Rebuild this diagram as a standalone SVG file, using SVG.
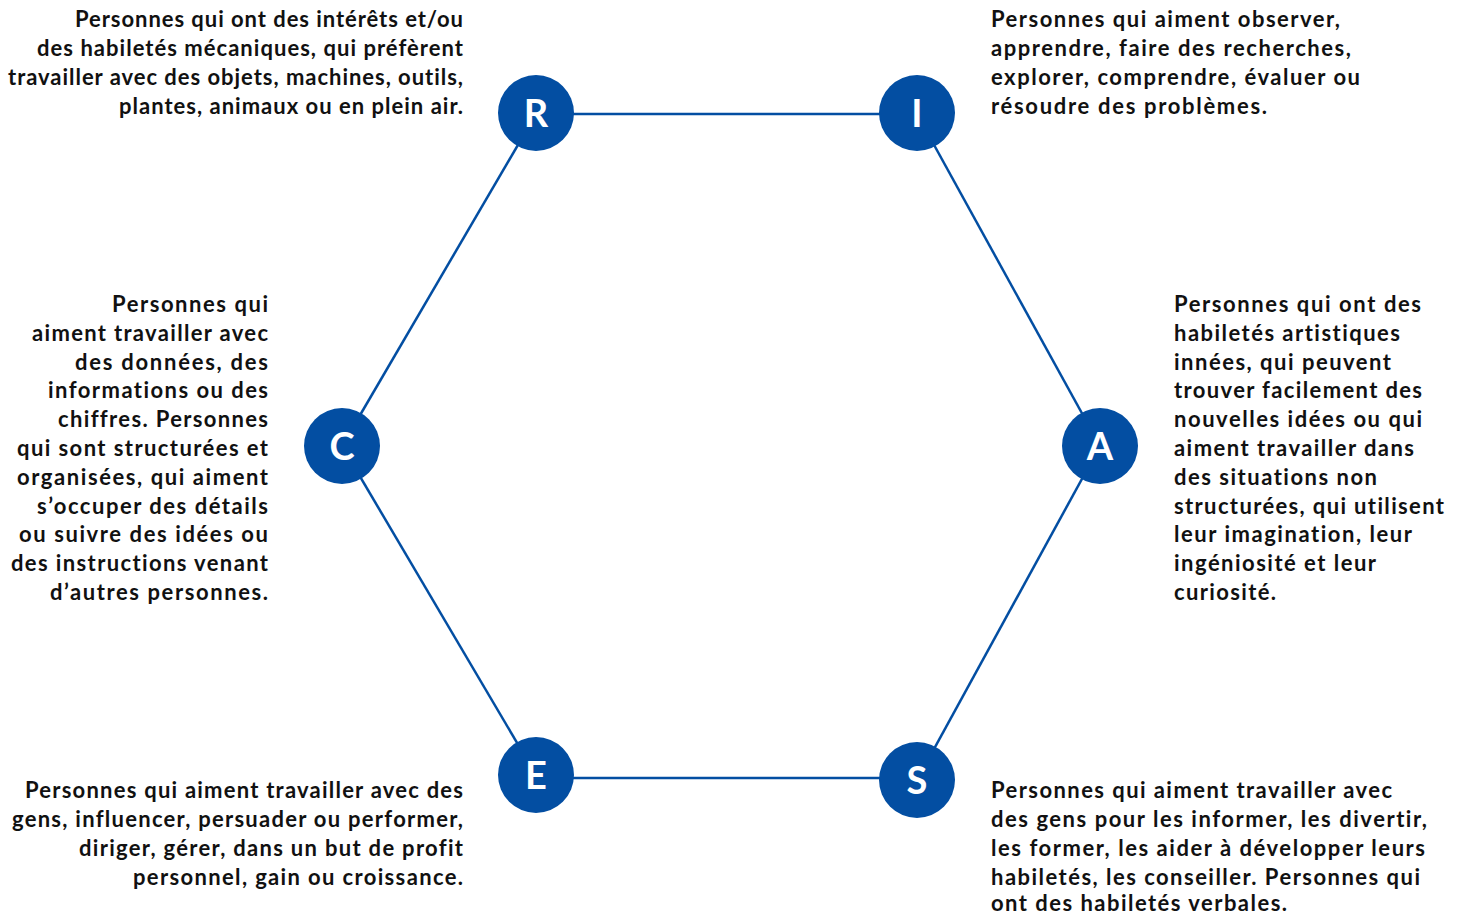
<svg xmlns="http://www.w3.org/2000/svg" width="1465" height="913" viewBox="0 0 1465 913">
<style>
.t{font-family:Lato,"Noto Sans",sans-serif;font-weight:700;font-size:22px;fill:#111;font-variant-ligatures:none}
.r{text-anchor:end}
.n{fill:#034ea2}
.l{font-family:Lato,"Noto Sans",sans-serif;font-weight:700;font-size:38px;fill:#fff;text-anchor:middle}
.e{stroke:#034ea2;stroke-width:2.5;fill:none}
</style>
<rect width="1465" height="913" fill="#fff"/>
<g id="connectors">
<line class="e" x1="536" y1="114" x2="917" y2="114"/>
<line class="e" x1="917" y1="114" x2="1100" y2="446"/>
<line class="e" x1="1100" y1="446" x2="917" y2="780"/>
<line class="e" x1="917" y1="778" x2="536" y2="778"/>
<line class="e" x1="536" y1="775" x2="342" y2="446"/>
<line class="e" x1="342" y1="446" x2="536" y2="114"/>
</g>
<g id="R"><circle class="n" cx="536" cy="113" r="38"/><text class="l" x="536" y="127">R</text>
<text class="t r" x="463" y="27" textLength="388">Personnes qui ont des intérêts et/ou</text>
<text class="t r" x="463" y="56" textLength="426">des habiletés mécaniques, qui préfèrent</text>
<text class="t r" x="463" y="85" textLength="455">travailler avec des objets, machines, outils,</text>
<text class="t r" x="463" y="114" textLength="344">plantes, animaux ou en plein air.</text>
</g>
<g id="I"><circle class="n" cx="917" cy="113" r="38"/><text class="l" x="917" y="127">I</text>
<text class="t" x="991" y="27" textLength="349">Personnes qui aiment observer,</text>
<text class="t" x="991" y="56" textLength="360">apprendre, faire des recherches,</text>
<text class="t" x="991" y="85" textLength="369">explorer, comprendre, évaluer ou</text>
<text class="t" x="991" y="114" textLength="276">résoudre des problèmes.</text>
</g>
<g id="C"><circle class="n" cx="342" cy="446" r="38"/><text class="l" x="342" y="460">C</text>
<text class="t r" x="268" y="312" textLength="156">Personnes qui</text>
<text class="t r" x="268" y="341" textLength="236">aiment travailler avec</text>
<text class="t r" x="268" y="370" textLength="193">des données, des</text>
<text class="t r" x="268" y="398" textLength="220">informations ou des</text>
<text class="t r" x="268" y="427" textLength="210">chiffres. Personnes</text>
<text class="t r" x="268" y="456" textLength="251">qui sont structurées et</text>
<text class="t r" x="268" y="485" textLength="251">organisées, qui aiment</text>
<text class="t r" x="268" y="514" textLength="231">s’occuper des détails</text>
<text class="t r" x="268" y="542" textLength="249">ou suivre des idées ou</text>
<text class="t r" x="268" y="571" textLength="257">des instructions venant</text>
<text class="t r" x="268" y="600" textLength="218">d’autres personnes.</text>
</g>
<g id="A"><circle class="n" cx="1100" cy="446" r="38"/><text class="l" x="1100" y="460">A</text>
<text class="t" x="1174" y="312" textLength="247">Personnes qui ont des</text>
<text class="t" x="1174" y="341" textLength="226">habiletés artistiques</text>
<text class="t" x="1174" y="370" textLength="217">innées, qui peuvent</text>
<text class="t" x="1174" y="398" textLength="248">trouver facilement des</text>
<text class="t" x="1174" y="427" textLength="248">nouvelles idées ou qui</text>
<text class="t" x="1174" y="456" textLength="240">aiment travailler dans</text>
<text class="t" x="1174" y="485" textLength="203">des situations non</text>
<text class="t" x="1174" y="514" textLength="270">structurées, qui utilisent</text>
<text class="t" x="1174" y="542" textLength="238">leur imagination, leur</text>
<text class="t" x="1174" y="571" textLength="202">ingéniosité et leur</text>
<text class="t" x="1174" y="600" textLength="102">curiosité.</text>
</g>
<g id="E"><circle class="n" cx="536" cy="775" r="38"/><text class="l" x="536" y="789">E</text>
<text class="t r" x="463" y="798" textLength="438">Personnes qui aiment travailler avec des</text>
<text class="t r" x="463" y="827" textLength="451">gens, influencer, persuader ou performer,</text>
<text class="t r" x="463" y="856" textLength="384">diriger, gérer, dans un but de profit</text>
<text class="t r" x="463" y="885" textLength="330">personnel, gain ou croissance.</text>
</g>
<g id="S"><circle class="n" cx="917" cy="780" r="38"/><text class="l" x="917" y="794">S</text>
<text class="t" x="991" y="798" textLength="401">Personnes qui aiment travailler avec</text>
<text class="t" x="991" y="827" textLength="436">des gens pour les informer, les divertir,</text>
<text class="t" x="991" y="856" textLength="434">les former, les aider à développer leurs</text>
<text class="t" x="991" y="885" textLength="429">habiletés, les conseiller. Personnes qui</text>
<text class="t" x="991" y="911" textLength="296">ont des habiletés verbales.</text>
</g>
</svg>
